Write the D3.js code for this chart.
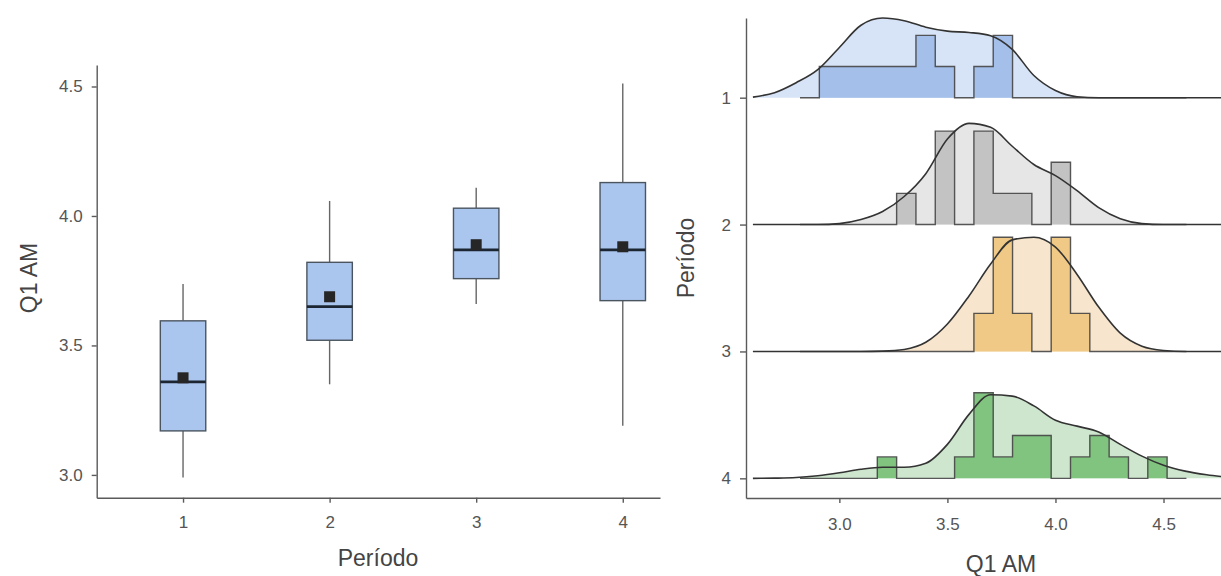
<!DOCTYPE html>
<html>
<head>
<meta charset="utf-8">
<script src="https://cdn.jsdelivr.net/npm/d3@7"></script>
<style>
  html, body { margin: 0; padding: 0; background: #fff; }
  svg { display: block; font-family: "Liberation Sans", Arial, sans-serif; }
  .tick text { fill: #555; }
  .domain, .tick line { stroke: #5a5a5a; stroke-width: 1.4; }
</style>
</head>
<body>
<svg id="chart" width="1221" height="576"></svg>
<script>
// ---- Box plot summaries of Q1 AM per period ----
const periods    = [1, 2, 3, 4];
const boxLow     = [2.99, 3.35, 3.66, 3.19];
const boxQ1      = [3.17, 3.52, 3.758, 3.673];
const boxMedian  = [3.359, 3.65, 3.869, 3.869];
const boxQ3      = [3.595, 3.821, 4.03, 4.129];
const boxHigh    = [3.737, 4.058, 4.109, 4.512];
const boxMean    = [3.375, 3.688, 3.889, 3.881];
const boxTicks   = [3.0, 3.5, 4.0, 4.5];

// ---- Histogram bins (counts per bin) for each period ----
const binStart = 2.818;
const binWidth = 0.0894;
const histCounts1 = [0,1,1,1,1,1,2,1,0,1,2,0,0,0,0,0,0,0,0,0];
const histCounts2 = [0,0,0,0,0,1,0,3,0,3,1,1,0,2,0,0,0,0,0,0];
const histCounts3 = [0,0,0,0,0,0,0,0,0,1,3,1,0,3,1,0,0,0,0,0];
const histCounts4 = [0,0,0,0,1,0,0,0,1,4,1,2,2,0,1,2,1,0,1,0];

// ---- Kernel density estimates on a common grid ----
const densGrid = [2.6,2.7,2.8,2.9,3.0,3.1,3.2,3.3,3.4,3.5,3.6,3.7,3.8,3.9,4.0,4.1,4.2,4.3,4.4,4.5,4.6,4.7,4.8];
const density1 = [0.008,0.077,0.23,0.43,0.77,1.11,1.22,1.18,1.08,1.02,1.00,0.95,0.74,0.34,0.11,0.015,0,0,0,0,0,0,0];
const density2 = [0,0,0,0,0.015,0.077,0.20,0.43,0.78,1.31,1.55,1.49,1.20,0.92,0.75,0.52,0.26,0.09,0.015,0,0,0,0];
const density3 = [0,0,0,0,0,0,0.005,0.03,0.14,0.42,0.85,1.34,1.71,1.75,1.60,1.18,0.68,0.28,0.08,0.015,0,0,0];
const density4 = [0,0.003,0.012,0.04,0.085,0.14,0.17,0.17,0.23,0.52,0.98,1.28,1.26,1.11,0.89,0.80,0.71,0.52,0.34,0.20,0.11,0.054,0.015];
const ridgeTicks = [3.0, 3.5, 4.0, 4.5];

const histFill    = ["#a3bfea", "#c3c3c3", "#f0c986", "#80c480"];
const densityFill = ["#d7e3f6", "#e6e6e6", "#f7e6cd", "#cde6cd"];

const svg = d3.select("#chart");
const fmt = d3.format(".1f");
const tickFont = 17;
const titleFont = 23;

// ================= Left panel: box plots =================
const xL = d3.scaleLinear().domain([0.411, 4.254]).range([96.7, 660]);
const yL = d3.scaleLinear().domain([2.912, 4.583]).range([497.7, 65]);
const step = xL(2) - xL(1);
const boxW = step * 0.31;

const left = svg.append("g");

left.append("g")
  .attr("transform", "translate(96.7,0)")
  .call(d3.axisLeft(yL).tickValues(boxTicks).tickFormat(fmt).tickSize(5).tickPadding(9).tickSizeOuter(0))
  .call(g => g.selectAll("text").attr("font-size", tickFont).attr("font-family", "Liberation Sans, Arial, sans-serif"));

left.append("g")
  .attr("transform", "translate(0,497.7)")
  .call(d3.axisBottom(xL).tickValues(periods).tickFormat(d3.format("d")).tickSize(5).tickPadding(13).tickSizeOuter(0))
  .call(g => g.selectAll("text").attr("font-size", tickFont).attr("font-family", "Liberation Sans, Arial, sans-serif"));

const boxes = left.selectAll("g.box").data(periods).join("g").attr("class", "box");

// whiskers
boxes.append("line")
  .attr("x1", d => xL(d)).attr("x2", d => xL(d))
  .attr("y1", (d, i) => yL(boxHigh[i])).attr("y2", (d, i) => yL(boxQ3[i]))
  .attr("stroke", "#666").attr("stroke-width", 1.4);
boxes.append("line")
  .attr("x1", d => xL(d)).attr("x2", d => xL(d))
  .attr("y1", (d, i) => yL(boxQ1[i])).attr("y2", (d, i) => yL(boxLow[i]))
  .attr("stroke", "#666").attr("stroke-width", 1.4);
// boxes
boxes.append("rect")
  .attr("x", d => xL(d) - boxW / 2).attr("width", boxW)
  .attr("y", (d, i) => yL(boxQ3[i]))
  .attr("height", (d, i) => yL(boxQ1[i]) - yL(boxQ3[i]))
  .attr("fill", "#abc6ee").attr("stroke", "#4a5560").attr("stroke-width", 1.4);
// medians
boxes.append("line")
  .attr("x1", d => xL(d) - boxW / 2).attr("x2", d => xL(d) + boxW / 2)
  .attr("y1", (d, i) => yL(boxMedian[i])).attr("y2", (d, i) => yL(boxMedian[i]))
  .attr("stroke", "#1c2633").attr("stroke-width", 2.8);
// means
boxes.append("rect")
  .attr("x", d => xL(d) - 5.5).attr("width", 11)
  .attr("y", (d, i) => yL(boxMean[i]) - 5.5).attr("height", 11)
  .attr("fill", "#262626");

left.append("text")
  .attr("x", 378).attr("y", 566)
  .attr("text-anchor", "middle").attr("font-size", titleFont).attr("fill", "#444")
  .text("Período");
left.append("text")
  .attr("transform", "translate(37,278) rotate(-90)")
  .attr("text-anchor", "middle").attr("font-size", titleFont).attr("fill", "#444")
  .text("Q1 AM");

// ================= Right panel: ridgelines =================
const xR = d3.scaleLinear().domain([2.568, 4.766]).range([746, 1221]);
const yR = d3.scaleLinear().domain([0.372, 4.155]).range([18, 498]);
const ridgeStep = yR(2) - yR(1);

const histCounts = [histCounts1, histCounts2, histCounts3, histCounts4];
const densities  = [density1, density2, density3, density4];

// histogram heights as densities: count / (n * binWidth)
const histDens = histCounts.map(c => {
  const n = d3.sum(c);
  return c.map(v => v / (n * binWidth));
});
const hHist = d3.scaleLinear().domain([0, d3.max(histDens.flat())]).range([0, ridgeStep * 0.9]);
const hDens = d3.scaleLinear().domain([0, d3.max(densities.flat())]).range([0, ridgeStep * 0.9]);

const right = svg.append("g");

periods.forEach((p, i) => {
  const base = yR(p);
  const g = right.append("g");

  const dPts = densGrid.map((x, k) => [x, densities[i][k]]);
  const dArea = d3.area().x(d => xR(d[0])).y0(base).y1(d => base - hDens(d[1])).curve(d3.curveMonotoneX);
  const dLine = d3.line().x(d => xR(d[0])).y(d => base - hDens(d[1])).curve(d3.curveMonotoneX);

  const edges = d3.range(histDens[i].length + 1).map(k => binStart + k * binWidth);
  const hPts = histDens[i].map((v, k) => [edges[k], v]);
  hPts.push([edges[edges.length - 1], 0]);
  const hArea = d3.area().x(d => xR(d[0])).y0(base).y1(d => base - hHist(d[1])).curve(d3.curveStepAfter);
  const hLine = d3.line().x(d => xR(d[0])).y(d => base - hHist(d[1])).curve(d3.curveStepAfter);

  g.append("path").attr("d", dArea(dPts)).attr("fill", densityFill[i]);
  g.append("path").attr("d", hArea(hPts)).attr("fill", histFill[i]);
  g.append("path").attr("d", hLine(hPts)).attr("fill", "none")
    .attr("stroke", "#454545").attr("stroke-width", 1.4).attr("stroke-opacity", 0.9);
  g.append("path").attr("d", dLine(dPts)).attr("fill", "none")
    .attr("stroke", "#333").attr("stroke-width", 1.6);
});

right.append("g")
  .attr("transform", "translate(746,0)")
  .call(d3.axisLeft(yR).tickValues(periods).tickFormat(d3.format("d")).tickSize(6).tickPadding(9).tickSizeOuter(0))
  .call(g => g.selectAll("text").attr("font-size", tickFont).attr("font-family", "Liberation Sans, Arial, sans-serif"));

right.append("g")
  .attr("transform", "translate(0,498)")
  .call(d3.axisBottom(xR).tickValues(ridgeTicks).tickFormat(fmt).tickSize(5).tickPadding(15).tickSizeOuter(0))
  .call(g => g.selectAll("text").attr("font-size", tickFont).attr("font-family", "Liberation Sans, Arial, sans-serif"));

right.append("text")
  .attr("x", 1001).attr("y", 572)
  .attr("text-anchor", "middle").attr("font-size", titleFont).attr("fill", "#444")
  .text("Q1 AM");
right.append("text")
  .attr("transform", "translate(694,258) rotate(-90)")
  .attr("text-anchor", "middle").attr("font-size", titleFont).attr("fill", "#444")
  .text("Período");
</script>
</body>
</html>
